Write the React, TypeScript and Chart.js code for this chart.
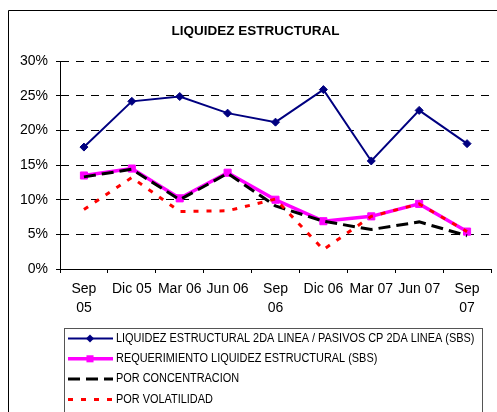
import React, { useEffect, useRef } from "react";
import { Chart, registerables } from "chart.js";

Chart.register(...registerables);

const categories: (string | string[])[] = [
  ["Sep", "05"], "Dic 05", "Mar 06", "Jun 06", ["Sep", "06"], "Dic 06", "Mar 07", "Jun 07", ["Sep", "07"],
];
const liquidez = [17.6, 24.2, 24.9, 22.5, 21.2, 25.9, 15.6, 22.9, 18.1];
const requerimiento = [13.5, 14.5, 10.2, 13.9, 10.0, 6.9, 7.6, 9.4, 5.4];
const concentracion = [13.3, 14.4, 10.0, 13.8, 9.1, 6.9, 5.7, 6.8, 4.8];
const volatilidad = [8.6, 13.2, 8.3, 8.4, 10.1, 2.8, 7.6, 9.4, 5.4];
const seriesNames = [
  "LIQUIDEZ ESTRUCTURAL 2DA LINEA / PASIVOS CP 2DA LINEA (SBS)",
  "REQUERIMIENTO LIQUIDEZ ESTRUCTURAL (SBS)",
  "POR CONCENTRACION",
  "POR VOLATILIDAD",
];
const chartTitle = "LIQUIDEZ ESTRUCTURAL";
const yMin = 0;
const yMax = 30;
const yStep = 5;

const FONT = "'Liberation Sans', Arial, sans-serif";

const decorPlugin = {
  id: "decor",
  beforeDraw(chart: any) {
    const ctx = chart.ctx;
    ctx.save();
    ctx.fillStyle = "#ffffff";
    ctx.fillRect(0, 0, chart.width, chart.height);
    ctx.strokeStyle = "#000000";
    ctx.lineWidth = 1;
    ctx.beginPath();
    ctx.moveTo(8.5, chart.height);
    ctx.lineTo(8.5, 10.5);
    ctx.lineTo(chart.width, 10.5);
    ctx.stroke();
    ctx.restore();
  },
  afterDraw(chart: any) {
    const ctx = chart.ctx;
    ctx.save();
    ctx.strokeStyle = "#555555";
    ctx.lineWidth = 1;
    ctx.strokeRect(64.5, 328.5, 418, 200);
    chart.data.datasets.forEach((ds: any, i: number) => {
      const y = 338.5 + i * 20.3;
      ctx.save();
      ctx.strokeStyle = ds.borderColor;
      ctx.lineWidth = ds.borderWidth;
      ctx.setLineDash(ds.borderDash || []);
      ctx.beginPath();
      ctx.moveTo(68, y);
      ctx.lineTo(113, y);
      ctx.stroke();
      ctx.setLineDash([]);
      ctx.fillStyle = ds.pointBackgroundColor || ds.borderColor;
      if (ds.pointRadius > 0) {
        const r = ds.pointRadius;
        ctx.beginPath();
        if (ds.pointStyle === "rectRot") {
          ctx.moveTo(90 - r, y);
          ctx.lineTo(90, y - r);
          ctx.lineTo(90 + r, y);
          ctx.lineTo(90, y + r);
          ctx.closePath();
        } else {
          const s = r * Math.SQRT1_2;
          ctx.rect(90 - s, y - s, 2 * s, 2 * s);
        }
        ctx.fill();
      }
      ctx.restore();
      ctx.save();
      ctx.fillStyle = "#000000";
      ctx.font = "12px " + FONT;
      ctx.textBaseline = "middle";
      ctx.translate(116, y);
      ctx.scale(0.91, 1);
      ctx.fillText(ds.label, 0, 0);
      ctx.restore();
    });
    ctx.restore();
  },
};

export default function App() {
  const ref = useRef<HTMLCanvasElement>(null);
  useEffect(() => {
    if (!ref.current) return;
    Chart.defaults.font.family = FONT;
    const chart = new Chart(ref.current, {
      type: "line",
      data: {
        labels: categories as any,
        datasets: [
          {
            label: seriesNames[0],
            data: liquidez,
            borderColor: "#000080",
            backgroundColor: "#000080",
            pointBackgroundColor: "#000080",
            borderWidth: 2,
            pointStyle: "rectRot",
            pointRadius: 4,
            pointBorderWidth: 1,
            order: 3,
          },
          {
            label: seriesNames[1],
            data: requerimiento,
            borderColor: "#ff00ff",
            backgroundColor: "#ff00ff",
            pointBackgroundColor: "#ff00ff",
            borderWidth: 3.5,
            pointStyle: "rect",
            pointRadius: 5,
            pointBorderWidth: 1,
            order: 2,
          },
          {
            label: seriesNames[2],
            data: concentracion,
            borderColor: "#000000",
            backgroundColor: "#000000",
            borderWidth: 3,
            borderDash: [12, 6],
            pointRadius: 0,
            order: 1,
          },
          {
            label: seriesNames[3],
            data: volatilidad,
            borderColor: "#ff0000",
            backgroundColor: "#ff0000",
            borderWidth: 3,
            borderDash: [5, 8],
            pointRadius: 0,
            order: 0,
          },
        ] as any,
      },
      plugins: [decorPlugin],
      options: {
        animation: false,
        responsive: false,
        events: [],
        layout: { padding: { left: 20, right: 6, top: 0, bottom: 0 } },
        plugins: {
          legend: { display: false },
          tooltip: { enabled: false },
          title: {
            display: true,
            text: chartTitle,
            color: "#000000",
            font: { size: 13.5, weight: "bold", family: FONT },
            padding: { top: 23, bottom: 22 },
          },
        },
        scales: {
          x: {
            offset: true,
            grid: { drawOnChartArea: false, drawTicks: true, tickLength: 4, color: "#000000", offset: true },
            border: { display: true, color: "#000000", width: 1 },
            ticks: {
              color: "#000000",
              font: { size: 14, family: FONT, lineHeight: 1.36 },
              padding: 7,
              maxRotation: 0,
              autoSkip: false,
            },
            afterFit: (s: any) => {
              s.height = 143;
            },
          },
          y: {
            min: yMin,
            max: yMax,
            grid: { color: "#000000", lineWidth: 1, tickLength: 4, drawTicks: true, tickBorderDash: [] },
            border: { display: true, color: "#000000", width: 1, dash: [8, 7] },
            ticks: {
              stepSize: yStep,
              color: "#000000",
              font: { size: 14, family: FONT },
              padding: 8,
              callback: (v: any) => v + "%",
            },
            afterFit: (s: any) => {
              s.width = 40;
            },
          },
        },
      } as any,
    });
    return () => chart.destroy();
  }, []);
  return (
    <div style={{ position: "absolute", left: 0, top: 0, width: 497, height: 412 }}>
      <canvas ref={ref} width={497} height={412} />
    </div>
  );
}
